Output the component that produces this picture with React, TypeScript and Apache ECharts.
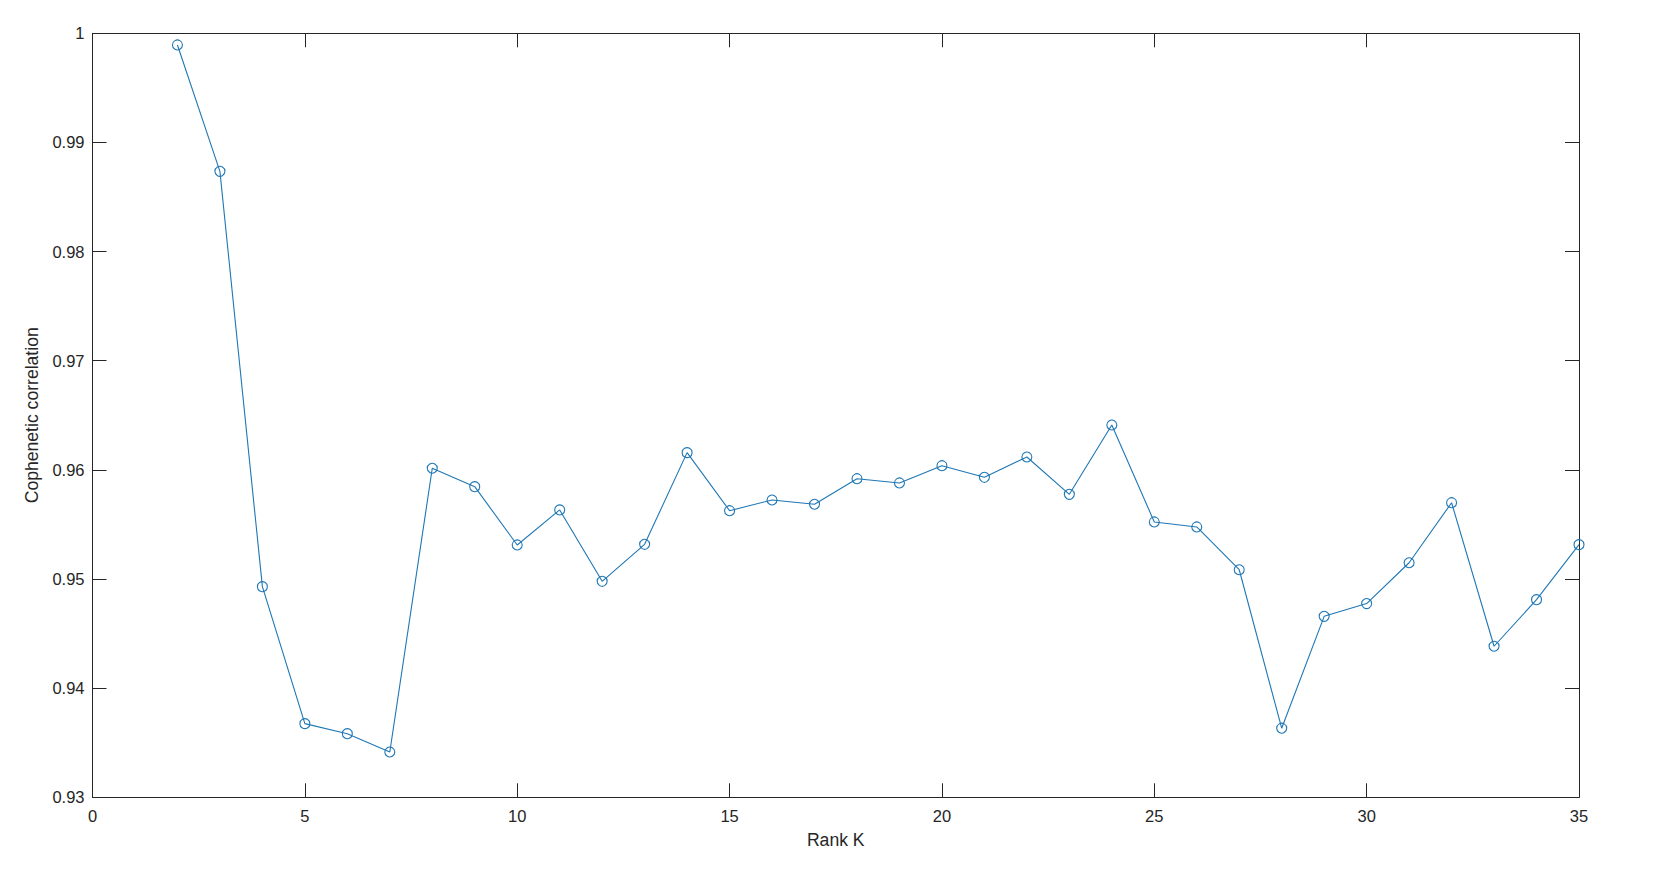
import React, { useEffect, useRef } from "react";
import * as echarts from "echarts";

const ranks: number[] = [2, 3, 4, 5, 6, 7, 8, 9, 10, 11, 12, 13, 14, 15, 16, 17, 18, 19, 20, 21, 22, 23, 24, 25, 26, 27, 28, 29, 30, 31, 32, 33, 34, 35];
const cophenetic: number[] = [
  0.99893, 0.98735, 0.9493, 0.93675, 0.93583, 0.93415, 0.96015, 0.95846, 0.95312, 0.95633,
  0.94979, 0.95318, 0.96158, 0.95626, 0.95724, 0.95685, 0.95919, 0.9588, 0.96038, 0.95932,
  0.96118, 0.95776, 0.96411, 0.95523, 0.95477, 0.95085, 0.93633, 0.94658, 0.94775, 0.95149,
  0.95699, 0.94384, 0.94811, 0.95315,
];
const xTicks = { min: 0, max: 35, interval: 5 };
const yTicks = { min: 0.93, max: 1, interval: 0.01 };
const xName = "Rank K";
const yName = "Cophenetic correlation";

const FONT = "'Liberation Sans', Arial, sans-serif";
const AX = "#262626";
const BLUE = "#1f77b4";

export default function App() {
  const ref = useRef<HTMLDivElement>(null);
  useEffect(() => {
    if (!ref.current) return;
    const chart = echarts.init(ref.current, undefined, { renderer: "svg" });
    const axisLine = { show: true, onZero: false, lineStyle: { color: AX, width: 1 } };
    const tick = { show: true, inside: true, length: 14, lineStyle: { color: AX, width: 1 } };
    const label = { color: AX, fontSize: 16.5, fontFamily: FONT };
    chart.setOption({
      animation: false,
      backgroundColor: "#ffffff",
      grid: { left: 92.5, right: 89, top: 33.3, bottom: 94.7, containLabel: false },
      xAxis: [
        {
          type: "value",
          min: xTicks.min,
          max: xTicks.max,
          interval: xTicks.interval,
          position: "bottom",
          axisLine,
          axisTick: tick,
          splitLine: { show: false },
          axisLabel: { ...label, margin: 10 },
          name: xName,
          nameLocation: "middle",
          nameGap: 34,
          nameTextStyle: { color: AX, fontSize: 17.6, fontFamily: FONT },
        },
        {
          type: "value",
          min: xTicks.min,
          max: xTicks.max,
          interval: xTicks.interval,
          position: "top",
          axisLine,
          axisTick: tick,
          splitLine: { show: false },
          axisLabel: { show: false },
        },
      ],
      yAxis: [
        {
          type: "value",
          min: yTicks.min,
          max: yTicks.max,
          interval: yTicks.interval,
          position: "left",
          axisLine,
          axisTick: tick,
          splitLine: { show: false },
          axisLabel: { ...label, margin: 8, formatter: (v: number) => String(+v.toFixed(2)) },
          name: yName,
          nameLocation: "middle",
          nameGap: 45,
          nameTextStyle: { color: AX, fontSize: 17.6, fontFamily: FONT },
        },
        {
          type: "value",
          min: yTicks.min,
          max: yTicks.max,
          interval: yTicks.interval,
          position: "right",
          axisLine,
          axisTick: tick,
          splitLine: { show: false },
          axisLabel: { show: false },
        },
      ],
      series: [
        {
          type: "line",
          xAxisIndex: 0,
          yAxisIndex: 0,
          data: ranks.map((k, i) => [k, cophenetic[i]]),
          symbol: "circle",
          symbolSize: 10,
          lineStyle: { color: BLUE, width: 1.1 },
          itemStyle: { color: "rgba(0,0,0,0)", borderColor: BLUE, borderWidth: 1.1 },
        },
      ],
    });
    return () => chart.dispose();
  }, []);
  return (
    <div
      ref={ref}
      style={{ position: "fixed", left: 0, top: 0, width: 1668, height: 892, background: "#fff" }}
    />
  );
}
